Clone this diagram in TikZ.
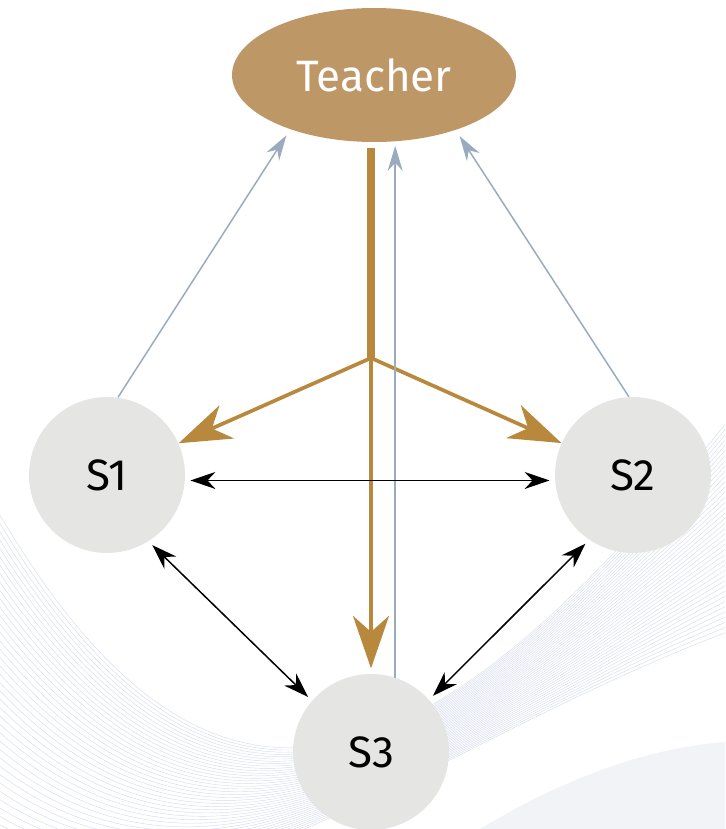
\documentclass[tikz,border=0pt]{standalone}
\usepackage{fontspec}
\setmainfont{Fira Sans}
\usepackage{tikz}
\usetikzlibrary{shapes,arrows,arrows.meta,positioning,calc}
\definecolor{teachbrown}{RGB}{190,151,103}
\definecolor{guidegold}{RGB}{184,137,60}
\definecolor{backgray}{RGB}{154,171,189}
\definecolor{studentgray}{RGB}{229,230,228}
\definecolor{wavelilac}{RGB}{165,175,215}
\definecolor{fadegray}{RGB}{242,243,246}

\begin{document}
\begin{tikzpicture}[
    x=0.02cm, y=-0.02cm,
    student/.style={circle, fill=studentgray, minimum size=3.12cm, inner sep=0pt, font=\fontsize{25}{30}\selectfont},
    teacher/.style={ellipse, fill=teachbrown, minimum width=5.68cm, minimum height=2.68cm, inner sep=0pt, text=white, font=\fontsize{25}{30}\selectfont},
    guide/.style={guidegold, line width=2.1pt, -{Stealth[length=1.05cm, width=0.72cm, inset=0.32cm]}},
    feedback/.style={backgray, line width=0.85pt, -{Stealth[length=0.5cm, width=0.3cm, inset=0.16cm]}},
    peer/.style={black, line width=0.85pt, {Stealth[length=0.5cm, width=0.34cm, inset=0.16cm]}-{Stealth[length=0.5cm, width=0.34cm, inset=0.16cm]}, shorten <=3pt, shorten >=3pt},
    wave/.style={wavelilac, line width=0.25pt, opacity=0.45},
]
    \useasboundingbox (0,0) rectangle (725,829);
    % Background waves
    \begin{scope}
    \clip (0,0) rectangle (725,829);
    \fill[fadegray] (480,829) .. controls (570,775) and (650,748) .. (725,742) -- (725,829) -- cycle;
    \foreach \i in {0,...,40} {
        \draw[wave] (-20,480+\i*9) .. controls (200,880+\i*2) and (420,820-\i*2) .. (760,380+\i*6);
    }
    \end{scope}
    % Nodes
    \node[teacher] (teacher) at (374,75) {Teacher};
    \node[student] (s1) at (107,475) {S1};
    \node[student] (s2) at (633,475) {S2};
    \node[student] (s3) at (371,752) {S3};
    \coordinate (hub) at (371,358);
    % Teacher guidance
    \draw[guidegold, line width=4.5pt] ([yshift=-3pt]teacher.south -| hub) -- (hub);
    \draw[guide] (hub) -- (s1);
    \draw[guide] (hub) -- (s2);
    \draw[guide, shorten >=3pt] (hub) -- (s3);
    % Student feedback
    \draw[feedback, shorten >=4pt] (s1.82) -- (teacher.213);
    \draw[feedback, shorten >=4pt] (s2.93) -- (teacher.-34);
    \draw[feedback, shorten >=2pt] (s3.72) -- (s3.72 |- teacher.south);
    % Peer exchange
    \draw[peer] (s1.-4) -- (s2.184);
    \draw[peer] (s1.-58) -- (s3.139);
    \draw[peer] (s2.-124) -- (s3.42);
\end{tikzpicture}
\end{document}
